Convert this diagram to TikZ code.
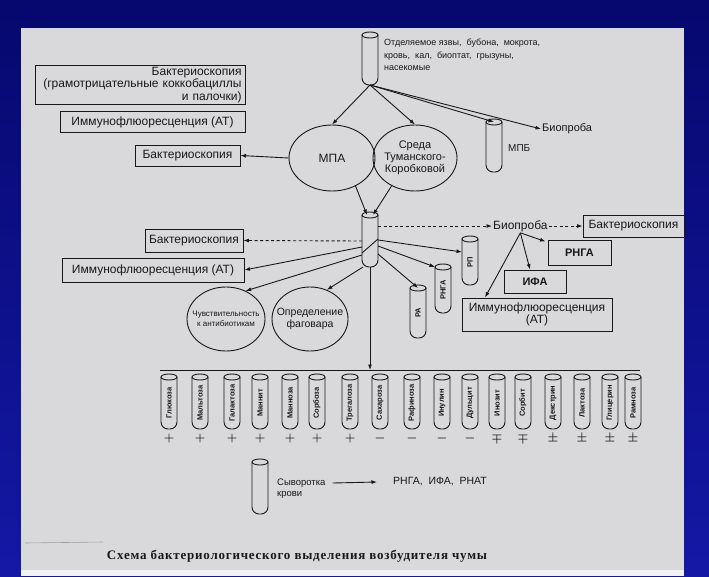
\documentclass[tikz,border=0pt]{standalone}
\usepackage{fontspec}
\setmainfont{Liberation Sans}
\newfontfamily\capfont[LetterSpace=6]{Liberation Serif}
\usetikzlibrary{arrows.meta,shapes.geometric,calc}
\definecolor{bgblue}{RGB}{20,24,165}
\definecolor{bgdark}{RGB}{6,8,110}
\definecolor{paper}{RGB}{217,217,220}
\definecolor{ink}{RGB}{24,24,26}
\newcommand\zw[1]{\makebox[0pt]{#1}}
\tikzset{
 ln/.style={draw=ink, line width=0.9pt},
 arr/.style={ln, -{Latex[length=5.5pt,width=4pt]}},
 dsh/.style={arr, dash pattern=on 3pt off 2.5pt},
 box/.style={ln, rectangle, inner sep=2pt, text=ink, font=\fontsize{12}{12.5}\selectfont},
 ell/.style={ln, ellipse, inner sep=0pt, text=ink, align=center},
 tubebody/.style={minimum width=16pt, inner sep=0pt, outer sep=0pt, text=ink, font=\bfseries\fontsize{7.5}{8}\selectfont},
 lbl/.style={text=ink, inner sep=1pt},
 sgn/.style={text=ink, inner sep=0pt, font=\boldmath\fontsize{13}{13}\selectfont},
}
\newcommand\mytube[5]{%
 \node[tubebody, minimum height=#4pt] (#1) at (#2,#3) {\rotatebox{90}{#5}};
 \draw[ln, rounded corners=7pt] (#1.north west) -- (#1.south west) -- (#1.south east) -- (#1.north east);
 \draw[ln] (#1.north) ellipse [x radius=8pt, y radius=3pt];
}
\begin{document}
\begin{tikzpicture}[x=1pt,y=-1pt]
\useasboundingbox (0,0) rectangle (709,576);
\shade[top color=bgdark, bottom color=bgblue] (0,0) rectangle (709,576);
\fill[paper] (21,28) rectangle (684,576);
\fill[paper!35!white] (21,570) rectangle (684,576);
\draw[gray!75, line width=0.6pt] (25,543) -- (103,542);

% source tube and text
\mytube{src}{370}{60}{50}{}
\node[lbl, anchor=north west, align=left, font=\fontsize{9}{12.5}\selectfont] (srct) at (383,38)
 {Отделяемое язвы,\ \ бубона,\ \ мокрота,\\кровь,\ \ кал,\ \ биоптат,\ \ грызуны,\\насекомые};

% left boxes (top)
\node[box, minimum width=210pt, minimum height=38pt, text width=203pt, align=right, inner xsep=3pt] (bk1) at (140,85)
 {Бактериоскопия\\(грамотрицательные коккобациллы\\и палочки)};
\node[box, minimum width=185pt, minimum height=21pt] (imm1) at (152.5,122) {Иммунофлюоресценция (АТ)};
\node[box, minimum width=105pt, minimum height=21pt] (bk2) at (187.5,155.5) {Бактериоскопия};

% media
\node[ell, minimum width=86pt, minimum height=66pt, font=\fontsize{12}{12}\selectfont] (mpa) at (332,158) {МПА};
\node[ell, minimum width=84pt, minimum height=66pt, font=\fontsize{11}{12}\selectfont] (sreda) at (415,158)
 {\zw{Среда}\\\zw{Туманского-}\\\zw{Коробковой}};
\mytube{mpb}{494}{147}{50}{}
\node[lbl, anchor=west, font=\fontsize{10}{10}\selectfont] (mpbl) at (507,148) {МПБ};
\node[lbl, anchor=west, font=\fontsize{11}{11}\selectfont] (bio1) at (541,129) {Биопроба};

\draw[arr] (src.south) -- (mpa.north);
\draw[arr] (src.south) -- (sreda.north);
\draw[arr] (src.south) -- (mpb.north);
\draw[arr] (src.south) -- (bio1.west);
\draw[arr] (mpa.west) -- (bk2.east);

% middle tube
\mytube{mid}{370}{241}{52}{}
\draw[ln] ([yshift=-12pt]mid.west) -- ([yshift=2pt]mid.east);
\draw[arr] (mpa.-50) -- ([xshift=-3pt]mid.north);
\draw[arr] (sreda.-130) -- ([xshift=3pt]mid.north);

% left of middle tube
\node[box, minimum width=98pt, minimum height=23pt] (bk3) at (194,240.5) {Бактериоскопия};
\node[box, minimum width=182pt, minimum height=24pt] (imm2) at (153,270) {Иммунофлюоресценция (АТ)};
\node[ell, minimum width=78pt, minimum height=64pt, font=\fontsize{8}{10}\selectfont] (chuv) at (226,319)
 {\zw{Чувствительность}\\\zw{к антибиотикам}};
\node[ell, minimum width=76pt, minimum height=64pt, font=\fontsize{10.5}{12}\selectfont] (opred) at (310,319)
 {\zw{Определение}\\\zw{фаговара}};
\draw[dsh] (mid.west) -- (bk3.east);
\draw[arr] ([yshift=-6pt]mid.west) -- (imm2.east);
\draw[arr] ([yshift=-14pt]mid.west) -- (chuv.55);
\draw[arr] ([xshift=1pt]mid.south west) -- (opred.60);

% right of middle tube
\node[lbl, anchor=west, font=\fontsize{12}{12}\selectfont] (bio2) at (492,226) {Биопроба};
\node[box, minimum width=101pt, minimum height=22pt] (bk4) at (633.5,226) {Бактериоскопия};
\node[box, minimum width=63pt, minimum height=25pt, font=\bfseries\fontsize{11}{11}\selectfont] (rngab) at (579.5,252.5) {РНГА};
\node[box, minimum width=62pt, minimum height=23pt, font=\bfseries\fontsize{11}{11}\selectfont] (ifa) at (535,281.5) {ИФА};
\node[box, minimum width=150pt, minimum height=33pt, align=center] (imm3) at (537,314.5) {Иммунофлюоресценция\\(АТ)};
\mytube{rp}{470}{262}{46}{РП}
\mytube{rngat}{443}{290}{46}{РНГА}
\mytube{ra}{418}{313}{50}{РА}

\draw[dsh] ([yshift=15pt]mid.east) -- (bio2.west);
\draw[dsh] (bio2.east) -- (bk4.west);
\draw[arr] (bio2.south) -- ([xshift=-2pt,yshift=-2pt]rngab.north west);
\draw[arr] (bio2.south) -- ([xshift=-5pt]ifa.north);
\draw[arr] (bio2.south) -- ([xshift=-52pt]imm3.north);
\draw[arr] ([yshift=1pt]mid.east) -- ([yshift=10pt]rp.west);
\draw[arr] ([yshift=-5pt]mid.east) -- (rngat.north west);
\draw[arr] ([yshift=-13pt]mid.east) -- (ra.north);

% bar and sugar tubes
\coordinate (barL) at (160,370);
\coordinate (barR) at (640,370);
\coordinate (barM) at (370,370);
\draw[ln] (barL) -- (barR);
\draw[arr] (mid.south) -- (barM);
\foreach \x/\t/\s [count=\i] in {
 169/Глюкоза/+, 200/Мальтоза/+, 232/Галактоза/+, 260/Маннит/+, 290/Манноза/+,
 317/Сорбоза/+, 350/Трегалоза/+, 380/Сахароза/-, 412/Рафиноза/-, 442/Инулин/-,
 470/Дульцит/-, 497/Инозит/\mp, 523/Сорбит/\mp, 553/Декстрин/\pm, 582/Лактоза/\pm,
 610/Глицерин/\pm, 633/Рамноза/\pm}{
 \mytube{b\i}{\x}{403}{52}{\t}
 \node[sgn] (s\i) at (\x,438) {$\s$};
}

% serum
\mytube{ser}{260}{488}{52}{}
\node[lbl, anchor=west, font=\fontsize{9.5}{10}\selectfont] (ser1) at (276,483) {Сыворотка};
\node[lbl, anchor=west, font=\fontsize{9.5}{10}\selectfont] (ser2) at (276,495) {крови};
\node[lbl, anchor=west, font=\fontsize{10.5}{11}\selectfont] (res) at (392,482) {РНГА,\ \ ИФА,\ \ РНАТ};
\draw[arr] ([xshift=6pt]ser1.east) -- ([xshift=-15pt]res.west);

% caption
\node[text=ink, inner sep=0pt, font=\capfont\bfseries\fontsize{13}{13}\selectfont] (cap) at (297,556)
 {Схема бактериологического выделения возбудителя чумы};
\end{tikzpicture}
\end{document}
